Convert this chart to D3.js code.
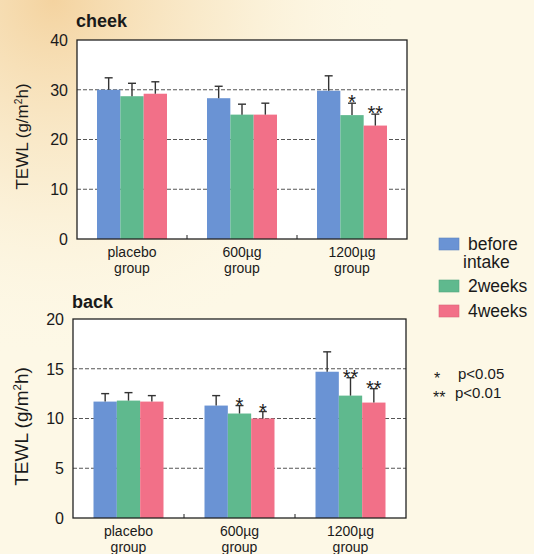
<!DOCTYPE html>
<html><head><meta charset="utf-8">
<script src="https://cdn.jsdelivr.net/npm/d3@7"></script>
<style>body{margin:0;background:#fdf8e6;}svg{display:block;}text{font-family:"Liberation Sans",Arial,sans-serif;fill:#1a1a1a;}</style>
</head><body>
<script>
const groups = ["placebo group", "600µg group", "1200µg group"];
const series = ["before intake", "2weeks", "4weeks"];
const colors = ["#6a93d4", "#5fb98e", "#f27088"];

const cheekValues = [[30.0, 28.7, 29.2], [28.3, 25.0, 25.0], [29.8, 24.9, 22.8]];
const cheekErrors = [[32.4, 31.3, 31.6], [30.7, 27.1, 27.3], [32.8, 27.3, 25.1]];
const cheekSig = [["", "", ""], ["", "", ""], ["", "*", "**"]];
const cheekTicks = [0, 10, 20, 30, 40];

const backValues = [[11.7, 11.8, 11.7], [11.3, 10.5, 10.0], [14.7, 12.3, 11.6]];
const backErrors = [[12.5, 12.6, 12.3], [12.3, 11.3, 10.7], [16.7, 14.1, 13.0]];
const backSig = [["", "", ""], ["", "*", "*"], ["", "**", "**"]];
const backTicks = [0, 5, 10, 15, 20];

const W = 534, H = 554;
const svg = d3.select("body").append("svg").attr("width", W).attr("height", H);
const defs = svg.append("defs");
const rg = defs.append("radialGradient").attr("id", "warm").attr("cx", 0.1).attr("cy", 0.0).attr("r", 0.65);
rg.append("stop").attr("offset", 0).attr("stop-color", "#f3cf98").attr("stop-opacity", 0.9);
rg.append("stop").attr("offset", 0.5).attr("stop-color", "#f7e2bb").attr("stop-opacity", 0.5);
rg.append("stop").attr("offset", 1).attr("stop-color", "#fdf8e6").attr("stop-opacity", 0);
svg.append("rect").attr("width", W).attr("height", H).attr("fill", "#fdf8e6");
svg.append("rect").attr("width", W).attr("height", H).attr("fill", "url(#warm)");

function panel(o) {
  const g = svg.append("g");
  const x = d3.scaleBand().domain(groups).range([o.left, o.right]);
  const xs = d3.scaleBand().domain(series).range([-o.groupW / 2, o.groupW / 2]);
  const y = d3.scaleLinear().domain([0, o.ticks[o.ticks.length - 1]]).range([o.bottom, o.top]);
  g.append("rect").attr("x", o.left).attr("y", o.top).attr("width", o.right - o.left)
    .attr("height", o.bottom - o.top).attr("fill", "#ffffff");
  g.selectAll(".grid").data(o.ticks.slice(1, -1)).join("line")
    .attr("x1", o.left).attr("x2", o.right).attr("y1", d => y(d)).attr("y2", d => y(d))
    .attr("stroke", "#555").attr("stroke-width", 1).attr("stroke-dasharray", "4,2");
  groups.forEach((grp, gi) => {
    const cx = x(grp) + x.bandwidth() / 2;
    series.forEach((s, si) => {
      const v = o.values[gi][si], e = o.errors[gi][si];
      const bx = cx + xs(s);
      const mid = bx + xs.bandwidth() / 2;
      g.append("rect").attr("x", bx).attr("y", y(v)).attr("width", xs.bandwidth())
        .attr("height", y(0) - y(v)).attr("fill", colors[si]);
      g.append("line").attr("x1", mid).attr("x2", mid).attr("y1", y(v)).attr("y2", y(e))
        .attr("stroke", "#333").attr("stroke-width", 1.4);
      g.append("line").attr("x1", mid - 4).attr("x2", mid + 4).attr("y1", y(e)).attr("y2", y(e))
        .attr("stroke", "#333").attr("stroke-width", 1.4);
      const sg = o.sig[gi][si];
      if (sg) {
        g.append("text").attr("x", mid).attr("y", y(e) + 6).attr("text-anchor", "middle")
          .attr("font-size", 20).text(sg);
      }
    });
  });
  g.append("rect").attr("x", o.left).attr("y", o.top).attr("width", o.right - o.left)
    .attr("height", o.bottom - o.top).attr("fill", "none").attr("stroke", "#222").attr("stroke-width", 1.3);
  g.selectAll(".xt").data(groups.slice(1)).join("line")
    .attr("x1", d => x(d)).attr("x2", d => x(d)).attr("y1", o.bottom).attr("y2", o.bottom - 4)
    .attr("stroke", "#222");
  g.selectAll(".yl").data(o.ticks).join("text")
    .attr("x", o.left - 9).attr("y", d => y(d)).attr("dy", "0.36em").attr("text-anchor", "end")
    .attr("font-size", 16).text(d => d);
  groups.forEach(grp => {
    const cx = x(grp) + x.bandwidth() / 2;
    const parts = grp.split(" ");
    g.append("text").attr("x", cx).attr("y", o.bottom + 18).attr("text-anchor", "middle")
      .attr("font-size", 14).text(parts[0]);
    g.append("text").attr("x", cx).attr("y", o.bottom + 34).attr("text-anchor", "middle")
      .attr("font-size", 14).text(parts[1]);
  });
  g.append("text").attr("x", o.left - 1).attr("y", o.titleY).attr("font-size", 18)
    .attr("font-weight", "bold").text(o.title);
  const ly = (o.top + o.bottom) / 2 + o.labelShift;
  const lab = g.append("text").attr("transform", `translate(${o.labelX},${ly}) rotate(-90)`)
    .attr("text-anchor", "middle").attr("font-size", o.labelSize);
  lab.append("tspan").text("TEWL (g/m");
  lab.append("tspan").attr("font-size", o.labelSize * 0.6).attr("dy", "-0.6em").text("2");
  lab.append("tspan").attr("dy", "0.36em").text("h)");
}

panel({ left: 77, right: 407, top: 40, bottom: 239, groupW: 70, ticks: cheekTicks,
  values: cheekValues, errors: cheekErrors, sig: cheekSig, title: "cheek", titleY: 27,
  labelX: 28, labelSize: 17, labelShift: -3 });
panel({ left: 73, right: 406, top: 319, bottom: 518, groupW: 70, ticks: backTicks,
  values: backValues, errors: backErrors, sig: backSig, title: "back", titleY: 308,
  labelX: 28, labelSize: 19, labelShift: 8 });

const leg = svg.append("g");
const legY = [238, 280, 305];
series.forEach((s, i) => {
  leg.append("rect").attr("x", 439).attr("y", legY[i]).attr("width", 20).attr("height", 12)
    .attr("fill", colors[i]).attr("stroke", d3.color(colors[i]).darker(0.3)).attr("stroke-width", 0.6);
});
leg.append("text").attr("x", 468).attr("y", 250).attr("font-size", 17.5).text("before");
leg.append("text").attr("x", 463).attr("y", 268).attr("font-size", 17.5).text("intake");
leg.append("text").attr("x", 468).attr("y", 292).attr("font-size", 17.5).text("2weeks");
leg.append("text").attr("x", 468).attr("y", 317).attr("font-size", 17.5).text("4weeks");
leg.append("text").attr("x", 434).attr("y", 384).attr("font-size", 16).text("*");
leg.append("text").attr("x", 458).attr("y", 379).attr("font-size", 15).text("p<0.05");
leg.append("text").attr("x", 433).attr("y", 403).attr("font-size", 16).text("**");
leg.append("text").attr("x", 455).attr("y", 398).attr("font-size", 15).text("p<0.01");
</script>
</body></html>
